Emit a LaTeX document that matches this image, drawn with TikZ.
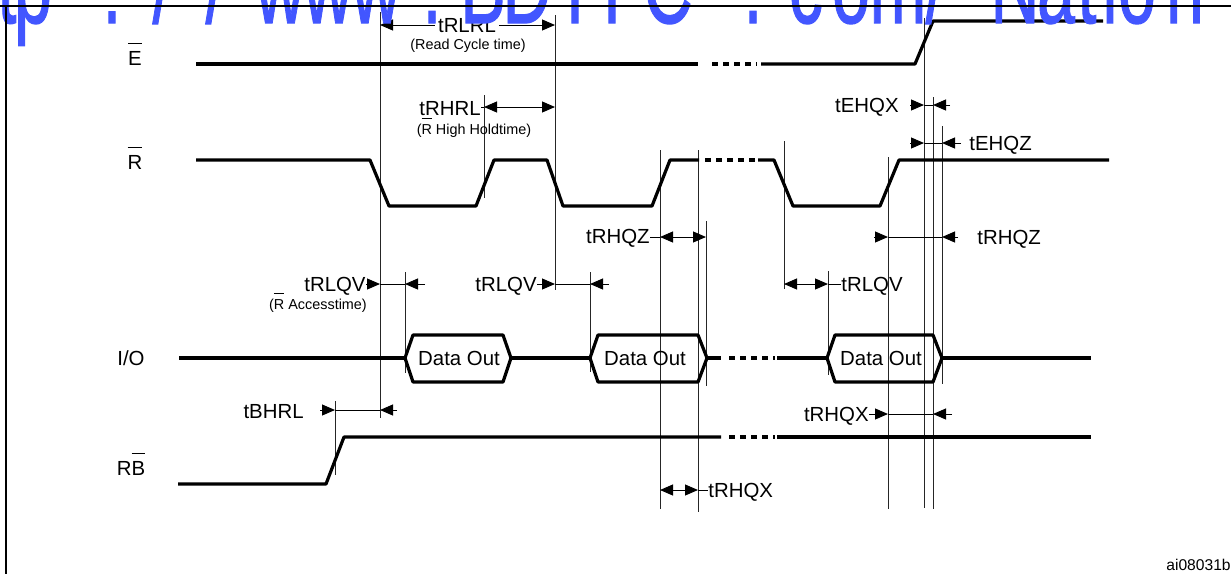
\documentclass[tikz,border=0pt]{standalone}
\usepackage{fontspec}
\usepackage{graphicx}
\setmainfont{Liberation Sans}
\newfontfamily\wmfont{Liberation Sans}[FakeBold=1.2]
\usetikzlibrary{arrows.meta}
\definecolor{wmblue}{RGB}{66,86,255}
\newcommand{\ovbar}[2][3pt]{\setbox0\hbox{#2}\vbox{\hrule width\wd0 height0.5pt\kern#1\box0}}
\newcommand{\wmc}[1]{\scalebox{0.62}[1]{#1}}
\begin{document}
\begin{tikzpicture}[x=0.5pt,y=-0.5pt,
  sig/.style={line width=1.6pt, line join=round},
  thin/.style={line width=0.5pt, black!85},
  dim/.style={line width=0.5pt},
  tip/.style={-{Triangle[length=6.5pt,width=5.5pt]}},
  tips/.style={{Triangle[length=6.5pt,width=5.5pt]}-{Triangle[length=6.5pt,width=5.5pt]}},
  lbl/.style={font=\fontsize{10.2}{12}\selectfont, inner sep=0pt},
  sml/.style={font=\fontsize{7.2}{9}\selectfont, inner sep=0pt},
  wm/.style={font=\wmfont\fontsize{55}{55}\selectfont, text=wmblue, inner sep=0pt, anchor=base},
  dots/.style={sig, dash pattern=on 3pt off 2.5pt},
]
\useasboundingbox (0,0) rectangle (1231,574);
\clip (0,0) rectangle (1231,574);

% ---- thin reference lines
\draw[thin] (380,12) -- (380,418);
\draw[thin] (555,15) -- (555,290);
\draw[thin] (484,95) -- (484,198);
\draw[thin] (405,272) -- (405,373);
\draw[thin] (590,272) -- (590,372);
\draw[thin] (335,401) -- (335,475);
\draw[thin] (660,150) -- (660,509);
\draw[thin] (698,150) -- (698,512);
\draw[thin] (706,221) -- (706,386);
\draw[thin] (784,141) -- (784,289);
\draw[thin] (828,271) -- (828,375);
\draw[thin] (888,157) -- (888,509);
\draw[thin] (924,18) -- (924,508);
\draw[thin] (933,97) -- (933,509);
\draw[thin] (942,126) -- (942,384);

% ---- signal names
\node[lbl, anchor=base] (nE) at (135,65) {\ovbar[3.5pt]{E}};
\node[lbl, anchor=base] (nR) at (135,169) {\ovbar[3.5pt]{R}};
\node[lbl, anchor=base] (nIO) at (131,365) {I/O};
\node[lbl, anchor=base] (nRB) at (131,475) {R\ovbar[3.5pt]{B}};

% ---- E
\draw[sig] (196,64) -- (698,64);
\draw[dots] (712,64) -- (757,64);
\draw[sig] (761,64) -- (915,64) -- (933,21) -- (1103,21);

% ---- R
\draw[sig] (196,160) -- (370,160) -- (389,206) -- (476,206) -- (494,160) -- (547,160)
  -- (563,206) -- (652,206) -- (670,160) -- (699,160);
\draw[dots] (705,160) -- (756,160);
\draw[sig] (758,160) -- (774,160) -- (793,206) -- (880,206) -- (899,160) -- (1109,160);

% ---- I/O
\draw[sig] (179,358) -- (405,358);
\draw[sig] (405,358) -- (413,335) -- (503,335) -- (511,358) -- (503,382) -- (413,382) -- cycle;
\draw[sig] (511,358) -- (590,358);
\draw[sig] (590,358) -- (598,335) -- (698,335) -- (707,358) -- (698,382) -- (598,382) -- cycle;
\draw[sig] (707,358) -- (721,358);
\draw[dots] (729,358) -- (775,358);
\draw[sig] (777,358) -- (827,358);
\draw[sig] (827,358) -- (835,335) -- (933,335) -- (942,358) -- (933,382) -- (835,382) -- cycle;
\draw[sig] (942,358) -- (1091,358);
\node[lbl, anchor=base] (d1) at (459,365) {Data Out};
\node[lbl, anchor=base] (d2) at (645,365) {Data Out};
\node[lbl, anchor=base] (d3) at (881,365) {Data Out};

% ---- RB
\draw[sig] (178,484) -- (326,484) -- (344,437) -- (721,437);
\draw[dots] (729,437) -- (775,437);
\draw[sig] (777,437) -- (1091,437);

% ---- tRLRL
\draw[dim,tips] (380,25) -- (555,25);
\node[lbl, anchor=base, fill=white, inner xsep=1.5pt] (trlrl) at (467,32) {tRLRL};
\node[sml, anchor=base] (trlrlc) at (468,49) {(Read Cycle time)};

% ---- tRHRL
\node[lbl, anchor=base east] (trhrl) at (481,115) {tRHRL};
\coordinate (trhrlA) at (484,107);
\coordinate (trhrlB) at (555,107);
\draw[dim] (trhrl.east |- trhrlA) -- (trhrlA);
\draw[dim,tips] (trhrlA) -- (trhrlB);
\node[sml, anchor=base] (trhrlc) at (474,134) {(\ovbar[2.5pt]{R} High Holdtime)};

% ---- tEHQX
\node[lbl, anchor=base east] (tehqx) at (899,112) {tEHQX};
\draw[dim,tip] (910,105) -- (924,105);
\draw[dim] (924,105) -- (933,105);
\draw[dim,tip] (950,105) -- (933,105);

% ---- tEHQZ
\node[lbl, anchor=base west] (tehqz) at (969,150) {tEHQZ};
\draw[dim,tip] (910,143) -- (924,143);
\draw[dim] (924,143) -- (942,143);
\draw[dim,tip] (961,143) -- (942,143);

% ---- tRHQZ (1)
\node[lbl, anchor=base east] (trhqz1) at (650,243) {tRHQZ};
\draw[dim] (650,237) -- (660,237);
\draw[dim,tips] (660,237) -- (706,237);

% ---- tRHQZ (2)
\node[lbl, anchor=base west] (trhqz2) at (977,244) {tRHQZ};
\draw[dim,tip] (874,237) -- (888,237);
\draw[dim] (888,237) -- (942,237);
\draw[dim,tip] (958,237) -- (942,237);

% ---- tRLQV (1)
\node[lbl, anchor=base east] (trlqv1) at (366,291) {tRLQV};
\draw[dim,tip] (366,284) -- (380,284);
\draw[dim] (380,284) -- (405,284);
\draw[dim,tip] (425,284) -- (405,284);
\node[sml, anchor=base] (trlqv1c) at (318,309) {(\ovbar[2.5pt]{R} Accesstime)};

% ---- tRLQV (2)
\node[lbl, anchor=base east] (trlqv2) at (537,291) {tRLQV};
\draw[dim,tip] (537,284) -- (555,284);
\draw[dim] (555,284) -- (590,284);
\draw[dim,tip] (609,284) -- (590,284);

% ---- tRLQV (3)
\node[lbl, anchor=base west] (trlqv3) at (841,291) {tRLQV};
\draw[dim,tips] (784,284) -- (828,284);
\draw[dim] (828,284) -- (841,284);

% ---- tBHRL
\node[lbl, anchor=base east] (tbhrl) at (304,418) {tBHRL};
\draw[dim,tip] (320,410) -- (335,410);
\draw[dim] (335,410) -- (380,410);
\draw[dim,tip] (397,410) -- (380,410);

% ---- tRHQX (1)
\node[lbl, anchor=base east] (trhqx1) at (869,421) {tRHQX};
\draw[dim,tip] (869,414) -- (888,414);
\draw[dim] (888,414) -- (933,414);
\draw[dim,tip] (952,414) -- (933,414);

% ---- tRHQX (2)
\node[lbl, anchor=base west] (trhqx2) at (708,497) {tRHQX};
\draw[dim,tips] (660,490) -- (698,490);
\draw[dim] (698,490) -- (708,490);

% ---- figure id
\node[font=\fontsize{7.8}{9}\selectfont, inner sep=0pt, anchor=base east] (fid) at (1231,570) {ai08031b};

% ---- watermark
\foreach \x/\c in {7/t,33/p,112/{:},162/{/},215/{/},280/w,328/w,376/w,432/{.},483/B,527/D,575/T,612/I,668/C,753/{.},806/c,851/o,898/m,935/{/},1015/N,1056/a,1087/t,1110/i,1137/o,1185/n}
  \node[wm] at (\x,23) {\wmc{\c}};

% ---- frame
\draw[line width=1pt] (0,6) -- (1231,6);
\draw[line width=1pt] (6,6) -- (6,574);
\end{tikzpicture}
\end{document}
